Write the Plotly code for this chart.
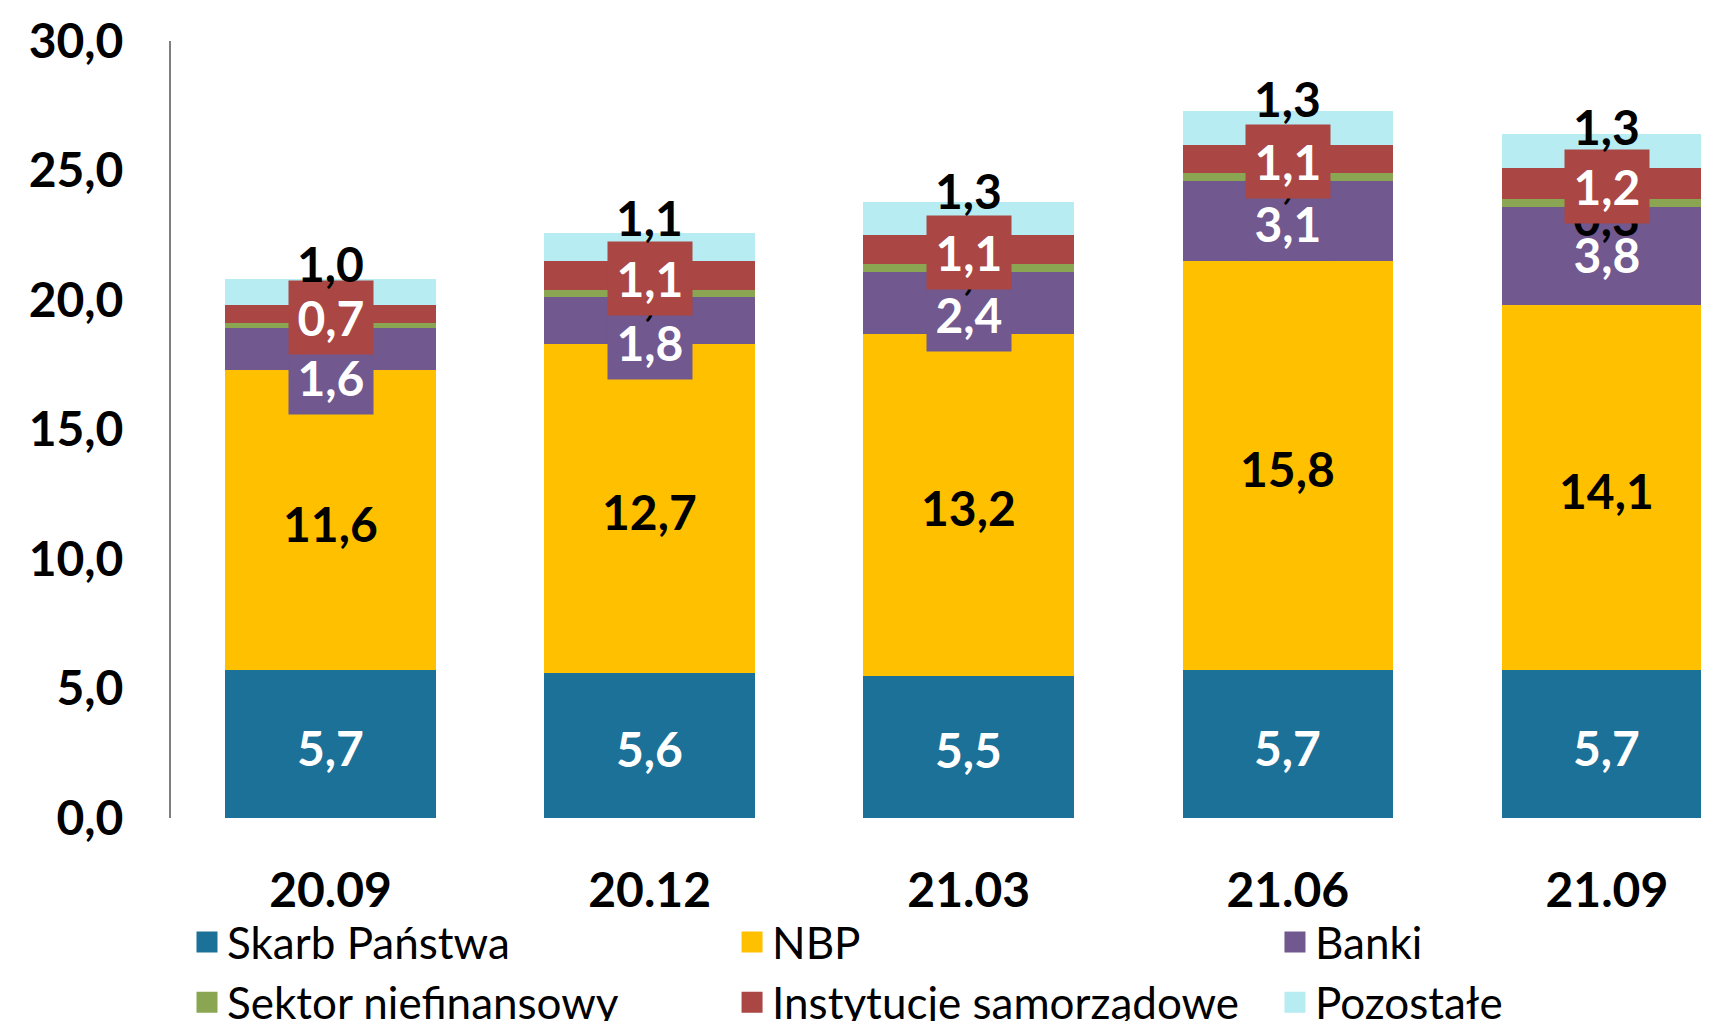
import plotly.graph_objects as go

# ---- data ----
categories = ["20.09", "20.12", "21.03", "21.06", "21.09"]
skarb_panstwa = [5.7, 5.6, 5.5, 5.7, 5.7]
nbp = [11.6, 12.7, 13.2, 15.8, 14.1]
banki = [1.6, 1.8, 2.4, 3.1, 3.8]
sektor_niefinansowy = [0.2, 0.3, 0.3, 0.3, 0.3]
instytucje_samorzadowe = [0.7, 1.1, 1.1, 1.1, 1.2]
pozostale = [1.0, 1.1, 1.3, 1.3, 1.3]
y_tick_values = [0, 5, 10, 15, 20, 25, 30]

series_names = ["Skarb Państwa", "NBP", "Banki", "Sektor niefinansowy",
                "Instytucje samorządowe", "Pozostałe"]
series_values = [skarb_panstwa, nbp, banki, sektor_niefinansowy,
                 instytucje_samorzadowe, pozostale]

# ---- styles ----
colors = ["#1C7199", "#FFC000", "#71588F", "#8AA653", "#AA4643", "#B7ECF2"]
label_font_colors = ["white", "black", "white", "black", "white", "black"]
label_bg = [None, None, "#71588F", None, "#AA4643", None]
# vertical label displacement in pixels (positive = down), mimicking the original layout
label_dy = [
    [0, 0, 0, 0, 0],
    [0, 0, 0, 0, 0],
    [25, 19, 9, -1, -4],
    [0, 0, 0, 0, 12],
    [0, 0, 0, 0, 0],
    [-32, -32, -31, -32, -28],
]
LABEL_BASE_DY = 3
legend_of_series = ["legend", "legend2", "legend3", "legend", "legend2", "legend3"]

FONT = "Lato"

fig = go.Figure()

for name, vals, col in zip(series_names, series_values, colors):
    fig.add_trace(go.Bar(
        x=categories, y=vals, name=name,
        marker=dict(color=col, line=dict(width=0)),
        showlegend=False, hoverinfo="x+y+name",
    ))

# legend entries (large square swatches)
for name, col, lg in zip(series_names, colors, legend_of_series):
    fig.add_trace(go.Scatter(
        x=[None], y=[None], mode="markers", name=name,
        marker=dict(symbol="square", size=16, color=col, line=dict(width=5, color=col)),
        legend=lg, legendgroup=name, showlegend=True, hoverinfo="skip",
    ))

# data labels (drawn in series order so later boxes sit on top)
base = [0.0] * len(categories)
for si, vals in enumerate(series_values):
    for ci, v in enumerate(vals):
        center = base[ci] + v / 2
        kw = dict(
            x=ci, y=center, xref="x", yref="y",
            text="<b>" + f"{v:.1f}".replace(".", ",") + "</b>",
            showarrow=False,
            font=dict(family=FONT, size=48, color=label_font_colors[si]),
            yshift=-(label_dy[si][ci] + LABEL_BASE_DY),
            xanchor="center", yanchor="middle",
        )
        if label_bg[si]:
            kw.update(bgcolor=label_bg[si], width=84, height=73, borderpad=0)
        fig.add_annotation(**kw)
    base = [b + v for b, v in zip(base, vals)]

legend_common = dict(yanchor="top", xanchor="left", orientation="v",
                     bgcolor="rgba(0,0,0,0)", borderwidth=0, traceorder="normal",
                     tracegroupgap=4, font=dict(family=FONT, size=44, color="black"))

fig.update_layout(
    width=1701, height=1013,
    margin=dict(l=163, r=0, t=33, b=203, autoexpand=False),
    barmode="stack", bargap=0.34,
    plot_bgcolor="white", paper_bgcolor="white",
    separators=", ",
    font=dict(family=FONT, color="black"),
    xaxis=dict(
        type="category", range=[-0.5, 4.32], showline=False, showgrid=False,
        zeroline=False, ticks="", ticklabelstandoff=40,
        tickfont=dict(family=FONT, size=48, color="black", weight="bold"),
    ),
    yaxis=dict(
        range=[0, 30], tickvals=y_tick_values, tickformat=".1f",
        showline=True, linecolor="#7F7F7F", linewidth=2,
        showgrid=False, zeroline=False, ticks="", ticklabelstandoff=36,
        tickfont=dict(family=FONT, size=48, color="black", weight="bold"),
    ),
    legend=dict(x=0.0104, y=-0.1145, **legend_common),
    legend2=dict(x=0.3648, y=-0.1145, **legend_common),
    legend3=dict(x=0.7178, y=-0.1145, **legend_common),
)

fig.write_html("out.html")
